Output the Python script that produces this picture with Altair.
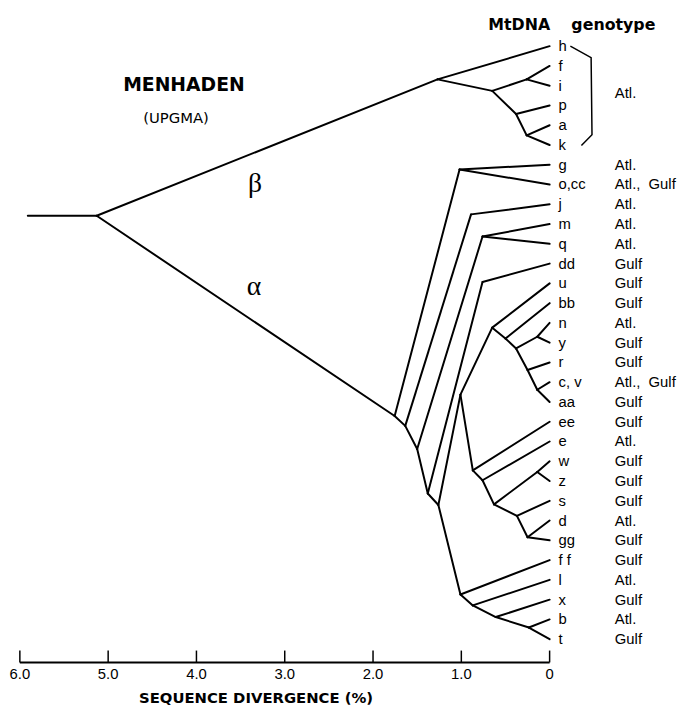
import altair as alt
import pandas as pd

# ---------------- data ----------------
leaf_labels = ["h", "f", "i", "p", "a", "k", "g", "o,cc", "j", "m", "q", "dd", "u", "bb",
               "n", "y", "r", "c, v", "aa", "ee", "e", "w", "z", "s", "d", "gg", "f f",
               "l", "x", "b", "t"]
leaf_regions = ["", "", "", "", "", "", "Atl.", "Atl., Gulf", "Atl.", "Atl.", "Atl.", "Gulf",
                "Gulf", "Gulf", "Atl.", "Gulf", "Gulf", "Atl., Gulf", "Gulf", "Gulf", "Atl.",
                "Gulf", "Gulf", "Gulf", "Atl.", "Gulf", "Gulf", "Atl.", "Gulf", "Atl.", "Gulf"]

# internal nodes: sequence divergence (%) and vertical position (leaf-row units)
node_names = ["start", "R", "B", "B2", "Bfi", "N3", "N4", "A1", "G", "A2", "Jk", "A3", "MQ",
              "A4", "DDk", "A5", "E", "U", "UB", "N5", "NY", "N6", "N7", "L1", "L2", "L3",
              "WZ", "L4", "L5", "F", "F2", "F3", "F4"]
node_div = [5.91, 5.13, 1.27, 0.65, 0.26, 0.38, 0.26, 1.755, 1.02, 1.635, 0.89, 1.50, 0.76,
            1.38, 0.76, 1.26, 1.01, 0.65, 0.50, 0.38, 0.14, 0.25, 0.14, 0.87, 0.76, 0.63,
            0.14, 0.37, 0.25, 1.01, 0.87, 0.61, 0.235]
node_row = [8.58, 8.58, 1.68, 2.26, 1.68, 3.43, 4.51, 18.71, 6.24, 19.21, 8.51, 20.38, 9.63,
            22.63, 11.93, 23.21, 17.63, 14.24, 14.79, 15.29, 14.7, 16.38, 17.38, 21.46, 21.96,
            23.18, 21.54, 23.76, 24.84, 27.74, 28.29, 28.88, 29.41]

edge_parent = ["start", "R", "R", "B", "B", "B2", "B2", "Bfi", "Bfi", "N3", "N3", "N4", "N4",
               "A1", "A1", "G", "G", "A2", "A2", "Jk", "A3", "A3", "MQ", "MQ", "A4", "A4",
               "DDk", "A5", "A5", "E", "E", "U", "U", "UB", "UB", "N5", "N5", "NY", "NY",
               "N6", "N6", "N7", "N7", "L1", "L1", "L2", "L2", "L3", "L3", "WZ", "WZ",
               "L4", "L4", "L5", "L5", "F", "F", "F2", "F2", "F3", "F3", "F4", "F4"]
edge_child = ["R", "B", "A1", "h", "B2", "Bfi", "N3", "f", "i", "p", "N4", "a", "k",
              "G", "A2", "g", "o,cc", "Jk", "A3", "j", "MQ", "A4", "m", "q", "DDk", "A5",
              "dd", "E", "F", "U", "L1", "u", "UB", "bb", "N5", "NY", "N6", "n", "y",
              "r", "N7", "c, v", "aa", "ee", "L2", "e", "L3", "WZ", "L4", "w", "z",
              "s", "L5", "d", "gg", "f f", "F2", "l", "F3", "x", "F4", "b", "t"]

tick_values = [6.0, 5.0, 4.0, 3.0, 2.0, 1.0, 0.0]
tick_labels = ["6.0", "5.0", "4.0", "3.0", "2.0", "1.0", "0"]

bracket_div = [-0.235, -0.47, -0.48, -0.36]
bracket_row = [0.0, 0.58, 4.48, 5.03]

# ---------------- tables ----------------
pos = {n: (d, r) for n, d, r in zip(node_names, node_div, node_row)}
for i, lab in enumerate(leaf_labels):
    pos[lab] = (0.0, float(i))

segs = pd.DataFrame({
    "x": [pos[p][0] for p in edge_parent],
    "y": [pos[p][1] for p in edge_parent],
    "x2": [pos[c][0] for c in edge_child],
    "y2": [pos[c][1] for c in edge_child],
})

leaves = pd.DataFrame({
    "row": list(range(len(leaf_labels))),
    "label": leaf_labels,
    "region": [r.replace(", ", ",\u00a0\u00a0") for r in leaf_regions],
})
regions = leaves[leaves["region"] != ""]

ticks = pd.DataFrame({"v": tick_values, "lab": tick_labels})
bracket = pd.DataFrame({"x": bracket_div, "y": bracket_row, "o": list(range(len(bracket_div)))})

x_scale = alt.Scale(domain=[0, 6], range=[548, 12], nice=False, zero=False)
y_scale = alt.Scale(domain=[0, 30], range=[34.5, 634.5], nice=False, zero=False)

INK = "#000000"
SANS = "Liberation Sans"

tree = alt.Chart(segs).mark_rule(color=INK, strokeWidth=2, strokeCap="round").encode(
    x=alt.X("x:Q", scale=x_scale, axis=None),
    x2="x2:Q",
    y=alt.Y("y:Q", scale=y_scale, axis=None),
    y2="y2:Q",
)

geno = alt.Chart(leaves).mark_text(align="left", baseline="middle", font=SANS,
                                    fontSize=15, color=INK).encode(
    x=alt.value(557),
    y=alt.Y("row:Q", scale=y_scale, axis=None),
    text="label:N",
)

reg = alt.Chart(regions).mark_text(align="left", baseline="middle", font=SANS,
                                    fontSize=15, color=INK).encode(
    x=alt.value(614),
    y=alt.Y("row:Q", scale=y_scale, axis=None),
    text="region:N",
)

brace = alt.Chart(bracket).mark_line(color=INK, strokeWidth=1.5).encode(
    x=alt.X("x:Q", scale=x_scale, axis=None),
    y=alt.Y("y:Q", scale=y_scale, axis=None),
    order="o:Q",
)

brace_lab = alt.Chart(pd.DataFrame({"t": ["Atl."]})).mark_text(
    align="left", baseline="middle", font=SANS, fontSize=15, color=INK).encode(
    x=alt.value(614), y=alt.value(82), text="t:N")

# axis drawn by hand so the ticks point upward
base_line = alt.Chart(pd.DataFrame({"a": [6.0], "b": [0.0]})).mark_rule(
    color=INK, strokeWidth=2).encode(
    x=alt.X("a:Q", scale=x_scale, axis=None), x2="b:Q", y=alt.value(658))
tick_marks = alt.Chart(ticks).mark_rule(color=INK, strokeWidth=1.5).encode(
    x=alt.X("v:Q", scale=x_scale, axis=None), y=alt.value(646), y2=alt.value(658))
tick_text = alt.Chart(ticks).mark_text(baseline="middle", font=SANS, fontSize=15,
                                       color=INK).encode(
    x=alt.X("v:Q", scale=x_scale, axis=None), y=alt.value(670), text="lab:N")


def label(txt, x, y, size, font, weight="normal", align="center"):
    return alt.Chart(pd.DataFrame({"t": [txt]})).mark_text(
        align=align, baseline="middle", font=font, fontSize=size, fontWeight=weight,
        color=INK).encode(x=alt.value(x), y=alt.value(y), text="t:N")


texts = [
    label("MENHADEN", 178, 74, 19, "DejaVu Sans", "bold"),
    label("(UPGMA)", 170, 107, 15, "DejaVu Sans"),
    label("\u03b2", 250, 174, 28, "Liberation Serif"),
    label("\u03b1", 249, 278, 28, "Liberation Serif"),
    label("MtDNA", 486, 13, 16, "DejaVu Sans", "bold", "left"),
    label("genotype", 570, 13, 16, "DejaVu Sans", "bold", "left"),
    label("SEQUENCE DIVERGENCE (%)", 251, 694, 15, "DejaVu Sans", "bold"),
]

chart = alt.layer(tree, brace, geno, reg, brace_lab, base_line, tick_marks, tick_text,
                  *texts).properties(
    width=687, height=700,
    autosize=alt.AutoSizeParams(type="none"),
    padding=0,
).configure(background="white").configure_view(stroke=None, strokeWidth=0)

chart.save("out.html", embed_options={"renderer": "svg", "actions": False})
